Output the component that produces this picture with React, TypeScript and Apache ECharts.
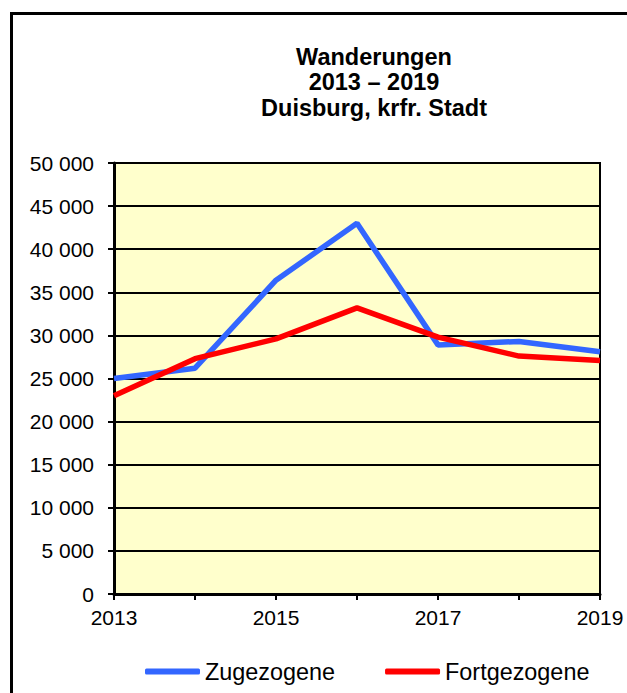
import React, { useEffect, useRef } from "react";
import * as echarts from "echarts";

const years = ["2013", "2014", "2015", "2016", "2017", "2018", "2019"];
const zugezogene = [25000, 26200, 36400, 43000, 28900, 29300, 28100];
const fortgezogene = [23000, 27300, 29600, 33200, 29800, 27600, 27100];
const titleLines = ["Wanderungen", "2013 – 2019", "Duisburg, krfr. Stadt"];
const seriesNames = ["Zugezogene", "Fortgezogene"];

const FONT = "'Liberation Sans', Arial, sans-serif";

export default function App() {
  const ref = useRef<HTMLDivElement>(null);
  useEffect(() => {
    if (!ref.current) return;
    const chart = echarts.init(ref.current, undefined, { renderer: "svg" });
    chart.setOption({
      animation: false,
      backgroundColor: "#ffffff",
      title: {
        text: titleLines.join("\n"),
        left: 374,
        top: 44,
        padding: 0,
        textAlign: "center",
        textStyle: {
          fontFamily: FONT,
          fontWeight: "bold",
          fontSize: 23.5,
          lineHeight: 25.5,
          color: "#000",
        },
      },
      graphic: [
        {
          type: "rect",
          shape: { x: 11.5, y: 13.5, width: 700, height: 700 },
          style: { fill: "none", stroke: "#000", lineWidth: 3 },
          silent: true,
        },
      ],
      legend: {
        left: 145,
        top: 660,
        itemWidth: 55,
        itemHeight: 6,
        itemGap: 50,
        padding: 0,
        textStyle: { fontFamily: FONT, fontSize: 23.4, color: "#000" },
        data: [
          { name: seriesNames[0], icon: "roundRect" },
          { name: seriesNames[1], icon: "roundRect" },
        ],
      },
      grid: {
        left: 114,
        top: 163,
        width: 486,
        height: 431,
        show: true,
        backgroundColor: "#FFFFCC",
        borderColor: "#000",
        borderWidth: 2,
      },
      xAxis: {
        type: "category",
        data: years,
        boundaryGap: false,
        axisLine: { lineStyle: { color: "#000", width: 3 } },
        axisTick: { show: true, interval: 0, length: 6, lineStyle: { color: "#000", width: 2 } },
        axisLabel: {
          interval: 1,
          margin: 13,
          fontFamily: FONT,
          fontSize: 21,
          color: "#000",
        },
        splitLine: { show: false },
      },
      yAxis: {
        type: "value",
        min: 0,
        max: 50000,
        interval: 5000,
        axisLine: { show: true, lineStyle: { color: "#000", width: 3 } },
        axisTick: { show: true, length: 6, lineStyle: { color: "#000", width: 2 } },
        axisLabel: {
          margin: 20,
          fontFamily: FONT,
          fontSize: 21,
          color: "#000",
          formatter: (v: number) =>
            String(v).replace(/\B(?=(\d{3})+(?!\d))/g, " "),
        },
        splitLine: { show: true, lineStyle: { color: "#000", width: 2 } },
      },
      series: [
        {
          name: seriesNames[0],
          type: "line",
          data: zugezogene,
          symbol: "none",
          color: "#3366FF",
          lineStyle: { color: "#3366FF", width: 5.5 },
        },
        {
          name: seriesNames[1],
          type: "line",
          data: fortgezogene,
          symbol: "none",
          color: "#FF0000",
          lineStyle: { color: "#FF0000", width: 5.5 },
        },
      ],
    });
    return () => chart.dispose();
  }, []);
  return (
    <div
      ref={ref}
      style={{ position: "absolute", left: 0, top: 0, width: 627, height: 693 }}
    />
  );
}
